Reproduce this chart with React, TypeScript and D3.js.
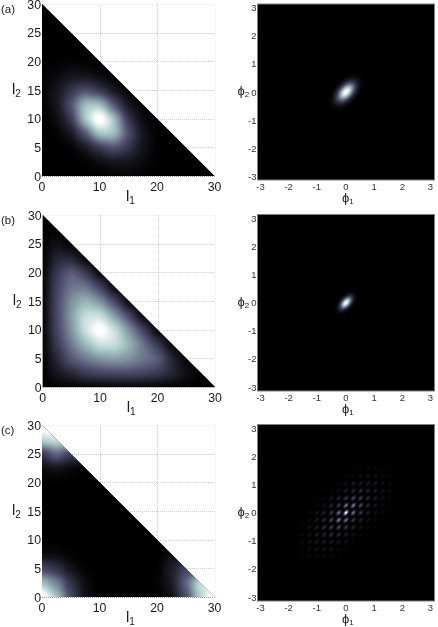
import React from "react";
import * as d3 from "d3";

// intensity tables, rows are l2 = 0, 2.5, ... 30 and each row runs l1 = 0, 2.5, ... up to the l1+l2=30 edge
const gridStep = 2.5;
const intensityA = [
  [0, 0, 0, 0, 0, 0.01, 0.02, 0.01, 0, 0, 0, 0, 0],
  [0, 0, 0, 0.01, 0.04, 0.08, 0.08, 0.04, 0.01, 0, 0, 0],
  [0, 0, 0.01, 0.08, 0.22, 0.33, 0.22, 0.08, 0.01, 0, 0],
  [0, 0.01, 0.08, 0.33, 0.68, 0.68, 0.33, 0.08, 0.01, 0],
  [0, 0.04, 0.22, 0.68, 1, 0.68, 0.22, 0.04, 0],
  [0.01, 0.08, 0.33, 0.68, 0.68, 0.33, 0.08, 0.01],
  [0.02, 0.08, 0.22, 0.33, 0.22, 0.08, 0.02],
  [0.01, 0.04, 0.08, 0.08, 0.04, 0.01],
  [0, 0.01, 0.02, 0.01, 0],
  [0, 0, 0, 0],
  [0, 0, 0],
  [0, 0],
  [0],
];
const intensityB = [
  [0, 0, 0, 0, 0, 0, 0, 0, 0, 0, 0, 0, 0],
  [0, 0.1, 0.17, 0.26, 0.3, 0.32, 0.32, 0.3, 0.26, 0.17, 0.08, 0],
  [0, 0.17, 0.38, 0.47, 0.55, 0.58, 0.55, 0.47, 0.42, 0.17, 0],
  [0, 0.26, 0.47, 0.66, 0.82, 0.82, 0.66, 0.47, 0.26, 0],
  [0, 0.3, 0.55, 0.82, 1, 0.82, 0.55, 0.3, 0],
  [0, 0.32, 0.58, 0.82, 0.82, 0.58, 0.32, 0],
  [0, 0.32, 0.55, 0.66, 0.55, 0.32, 0],
  [0, 0.3, 0.47, 0.47, 0.3, 0],
  [0, 0.26, 0.42, 0.26, 0],
  [0, 0.17, 0.17, 0],
  [0, 0.08, 0],
  [0, 0],
  [0],
];
const intensityC = [
  [1, 0.7, 0.3, 0.07, 0, 0, 0, 0, 0, 0.06, 0.3, 0.72, 1],
  [0.68, 0.5, 0.22, 0.05, 0, 0, 0, 0, 0.02, 0.1, 0.4, 0.8],
  [0.3, 0.22, 0.08, 0.01, 0, 0, 0, 0, 0, 0.12, 0.3],
  [0.05, 0.04, 0.01, 0, 0, 0, 0, 0, 0, 0.06],
  [0, 0, 0, 0, 0, 0, 0, 0, 0],
  [0, 0, 0, 0, 0, 0, 0, 0],
  [0, 0, 0, 0, 0, 0, 0],
  [0, 0, 0, 0, 0, 0],
  [0, 0, 0, 0, 0],
  [0.05, 0.07, 0.03, 0],
  [0.22, 0.42, 0.25],
  [0.75, 0.8],
  [1],
];

// phase panels: single peak in (a) and (b), a lattice of peaks in (c)
const singlePeakPhi = [0];
const singlePeakAmp = [[1]];
const latticePhi = [-1.56, -1.3, -1.04, -0.78, -0.52, -0.26, 0, 0.26, 0.52, 0.78, 1.04, 1.3, 1.56];
// rows run phi2 = 1.56 down to -1.56
const latticeAmp = [
  [0, 0, 0, 0, 0, 0, 0, 0.02, 0.04, 0.05, 0.05, 0.04, 0.03],
  [0, 0, 0, 0, 0, 0, 0.04, 0.05, 0.08, 0.09, 0.08, 0.06, 0.04],
  [0, 0, 0, 0, 0.02, 0.04, 0.08, 0.11, 0.13, 0.12, 0.11, 0.08, 0.05],
  [0, 0, 0, 0.02, 0.04, 0.08, 0.14, 0.19, 0.2, 0.16, 0.12, 0.09, 0.05],
  [0, 0, 0.02, 0.04, 0.09, 0.16, 0.25, 0.33, 0.27, 0.2, 0.13, 0.08, 0.04],
  [0, 0, 0.04, 0.08, 0.16, 0.27, 0.5, 0.55, 0.33, 0.19, 0.11, 0.05, 0.02],
  [0, 0.04, 0.08, 0.14, 0.25, 0.5, 1, 0.5, 0.25, 0.14, 0.08, 0.04, 0],
  [0.02, 0.05, 0.11, 0.19, 0.33, 0.55, 0.5, 0.27, 0.16, 0.08, 0.04, 0, 0],
  [0.04, 0.08, 0.13, 0.2, 0.27, 0.33, 0.25, 0.16, 0.09, 0.04, 0.02, 0, 0],
  [0.05, 0.09, 0.12, 0.16, 0.2, 0.19, 0.14, 0.08, 0.04, 0.02, 0, 0, 0],
  [0.05, 0.08, 0.11, 0.12, 0.13, 0.11, 0.08, 0.04, 0.02, 0, 0, 0, 0],
  [0.04, 0.06, 0.08, 0.09, 0.08, 0.05, 0.04, 0, 0, 0, 0, 0, 0],
  [0.03, 0.04, 0.05, 0.05, 0.04, 0.02, 0, 0, 0, 0, 0, 0, 0],
];

const numberTicksX = [0, 10, 20, 30];
const numberTicksY = [0, 5, 10, 15, 20, 25, 30];
const phaseTicks = [-3, -2, -1, 0, 1, 2, 3];

// MATLAB bone colormap
const bone = d3
  .scaleLinear<string>()
  .domain([0, 0.375, 0.75, 1])
  .range(["rgb(0,0,0)", "rgb(81,81,113)", "rgb(166,198,198)", "rgb(255,255,255)"])
  .clamp(true);

const FONT = "'Liberation Sans', Arial, sans-serif";

// lookup for feComponentTransfer so the cells can be blurred as gray and coloured afterwards
function boneTable(channel: "r" | "g" | "b", gain: number) {
  return d3
    .range(0, 1.0001, 1 / 48)
    .map((v) => (d3.rgb(bone(v * gain))[channel] / 255).toFixed(3))
    .join(" ");
}

function NumberPanel({ id, tag, table, left, right, top, bottom, blur, gain }: any) {
  const x = d3.scaleLinear().domain([0, 30]).range([left, right]);
  const y = d3.scaleLinear().domain([0, 30]).range([bottom, top]);
  const w = x(gridStep) - x(0);
  const h = y(0) - y(gridStep);
  const pad = 24; // cells on the outer edges run past the clip so the blur does not darken them
  const tri = [
    [x(0), y(0)],
    [x(30), y(0)],
    [x(0), y(30)],
  ]
    .map((p) => p.join(","))
    .join(" ");

  return (
    <g>
      <defs>
        <clipPath id={`tri-${id}`}>
          <polygon points={tri} />
        </clipPath>
        <filter
          id={`soft-${id}`}
          filterUnits="userSpaceOnUse"
          x={left - 40}
          y={top - 40}
          width={right - left + 80}
          height={bottom - top + 80}
          colorInterpolationFilters="sRGB"
        >
          <feGaussianBlur stdDeviation={blur} />
          <feComponentTransfer>
            <feFuncR type="table" tableValues={boneTable("r", gain)} />
            <feFuncG type="table" tableValues={boneTable("g", gain)} />
            <feFuncB type="table" tableValues={boneTable("b", gain)} />
          </feComponentTransfer>
        </filter>
      </defs>

      {numberTicksX.map((t) => (
        <line
          key={`gx${t}`}
          x1={Math.round(x(t)) + 0.5}
          x2={Math.round(x(t)) + 0.5}
          y1={top}
          y2={bottom}
          stroke={t === 30 ? "#ececec" : "#cccccc"}
          strokeDasharray="1 1"
        />
      ))}
      {numberTicksY.map((t) => (
        <line
          key={`gy${t}`}
          x1={left}
          x2={right}
          y1={Math.round(y(t)) + 0.5}
          y2={Math.round(y(t)) + 0.5}
          stroke={t === 30 ? "#ececec" : "#cccccc"}
          strokeDasharray="1 1"
        />
      ))}

      <g clipPath={`url(#tri-${id})`}>
        <rect x={left} y={top} width={right - left} height={bottom - top} fill="#000" />
        <g filter={`url(#soft-${id})`}>
          <rect x={left - 30} y={top - 30} width={right - left + 60} height={bottom - top + 60} fill="#000" />
          {table.map((row: number[], j: number) =>
            row.map((v: number, i: number) => (
              <rect
                key={`${i}-${j}`}
                x={x(i * gridStep) - w / 2 - (i === 0 ? pad : 0)}
                y={y(j * gridStep) - h / 2 - (j === table.length - 1 ? pad : 0)}
                width={w + 0.5 + (i === 0 ? pad : 0) + (i === row.length - 1 ? pad : 0)}
                height={h + 0.5 + (j === 0 ? pad : 0) + (j === table.length - 1 ? pad : 0)}
                fill={d3.rgb(v * 255, v * 255, v * 255).formatRgb()}
              />
            ))
          )}
        </g>
      </g>
      <line
        x1={left}
        x2={right}
        y1={Math.round(bottom) + 0.5}
        y2={Math.round(bottom) + 0.5}
        stroke="#9a9a9a"
        strokeDasharray="1 1"
      />

      <g fontFamily={FONT} fontSize={12.3} fill="#1a1a1a">
        {numberTicksX.map((t) => (
          <text key={t} x={x(t)} y={bottom + 15} textAnchor="middle">
            {t}
          </text>
        ))}
        {numberTicksY.map((t) => (
          <text key={t} x={left - 1} y={y(t) + 4.5} textAnchor="end">
            {t}
          </text>
        ))}
        <text x={left + 84} y={bottom + 25} fontSize={15} textAnchor="start">
          l<tspan fontSize={10} dy={3}>1</tspan>
        </text>
        <text x={left - 30} y={top + 90} fontSize={15}>
          l<tspan fontSize={10} dy={3}>2</tspan>
        </text>
        <text x={1} y={top + 9} fontSize={11.5}>
          {tag}
        </text>
      </g>
    </g>
  );
}

function PhasePanel({ id, phis, amps, left, right, top, bottom, major, minor }: any) {
  const x = d3.scaleLinear().domain([-Math.PI, Math.PI]).range([left, right]);
  const y = d3.scaleLinear().domain([-Math.PI, Math.PI]).range([bottom, top]);
  const rx = x(major) - x(0);
  const ry = x(minor) - x(0);
  const stops = d3.range(0, 1.0001, 0.1);
  const spots: any[] = [];
  amps.forEach((row: number[], r: number) =>
    row.forEach((a: number, c: number) => {
      if (a > 0) spots.push({ a, px: x(phis[c]), py: y(phis[phis.length - 1 - r]), key: `${r}-${c}` });
    })
  );

  return (
    <g>
      <rect x={left} y={top} width={right - left} height={bottom - top} fill="#000" stroke="#808080" />
      <defs>
        {spots.map((s) => (
          <radialGradient key={s.key} id={`spot-${id}-${s.key}`}>
            {stops.map((t) => (
              <stop key={t} offset={t} stopColor={bone(s.a * Math.exp(-4.6 * t * t))} />
            ))}
          </radialGradient>
        ))}
      </defs>
      <g style={{ isolation: "isolate" }}>
        {spots.map((s) => (
          <ellipse
            key={s.key}
            rx={rx}
            ry={ry}
            transform={`translate(${s.px},${s.py}) rotate(-48)`}
            fill={`url(#spot-${id}-${s.key})`}
            style={{ mixBlendMode: "lighten" }}
          />
        ))}
      </g>
      <g fontFamily={FONT} fontSize={9.5} fill="#333">
        {phaseTicks.map((t) => (
          <text key={t} x={x(t) - (t < 0 ? 1 : 0)} y={bottom + 10} textAnchor="middle">
            {t}
          </text>
        ))}
        {phaseTicks.map((t) => (
          <text key={t} x={left - 1} y={y(t) + 3.5} textAnchor="end">
            {t}
          </text>
        ))}
      </g>
      <g fontFamily={FONT} fontSize={13} fill="#1a1a1a">
        <text x={x(0) - 4} y={bottom + 22}>
          ϕ<tspan fontSize={8} dy={2}>1</tspan>
        </text>
        <text x={left - 20} y={top + 91}>
          ϕ<tspan fontSize={8} dy={2}>2</tspan>
        </text>
      </g>
    </g>
  );
}

export default function App() {
  return (
    <svg
      width={438}
      height={627}
      viewBox="0 0 438 627"
      style={{ position: "absolute", left: 0, top: 0, display: "block", background: "#fff" }}
    >
      <NumberPanel id="a" tag="(a)" table={intensityA} left={42} right={214.5} top={4} bottom={176} blur={5.5} gain={1.15} />
      <NumberPanel id="b" tag="(b)" table={intensityB} left={42.7} right={215} top={215} bottom={387} blur={5.5} gain={1.08} />
      <NumberPanel id="c" tag="(c)" table={intensityC} left={42} right={214.5} top={425} bottom={597} blur={5} gain={1.1} />
      <PhasePanel id="a" phis={singlePeakPhi} amps={singlePeakAmp} left={257.5} right={434.5} top={4} bottom={180} major={0.8} minor={0.46} />
      <PhasePanel id="b" phis={singlePeakPhi} amps={singlePeakAmp} left={257.5} right={434.5} top={214.5} bottom={391} major={0.52} minor={0.29} />
      <PhasePanel id="c" phis={latticePhi} amps={latticeAmp} left={257.5} right={434.5} top={424.5} bottom={601} major={0.2} minor={0.12} />
    </svg>
  );
}
